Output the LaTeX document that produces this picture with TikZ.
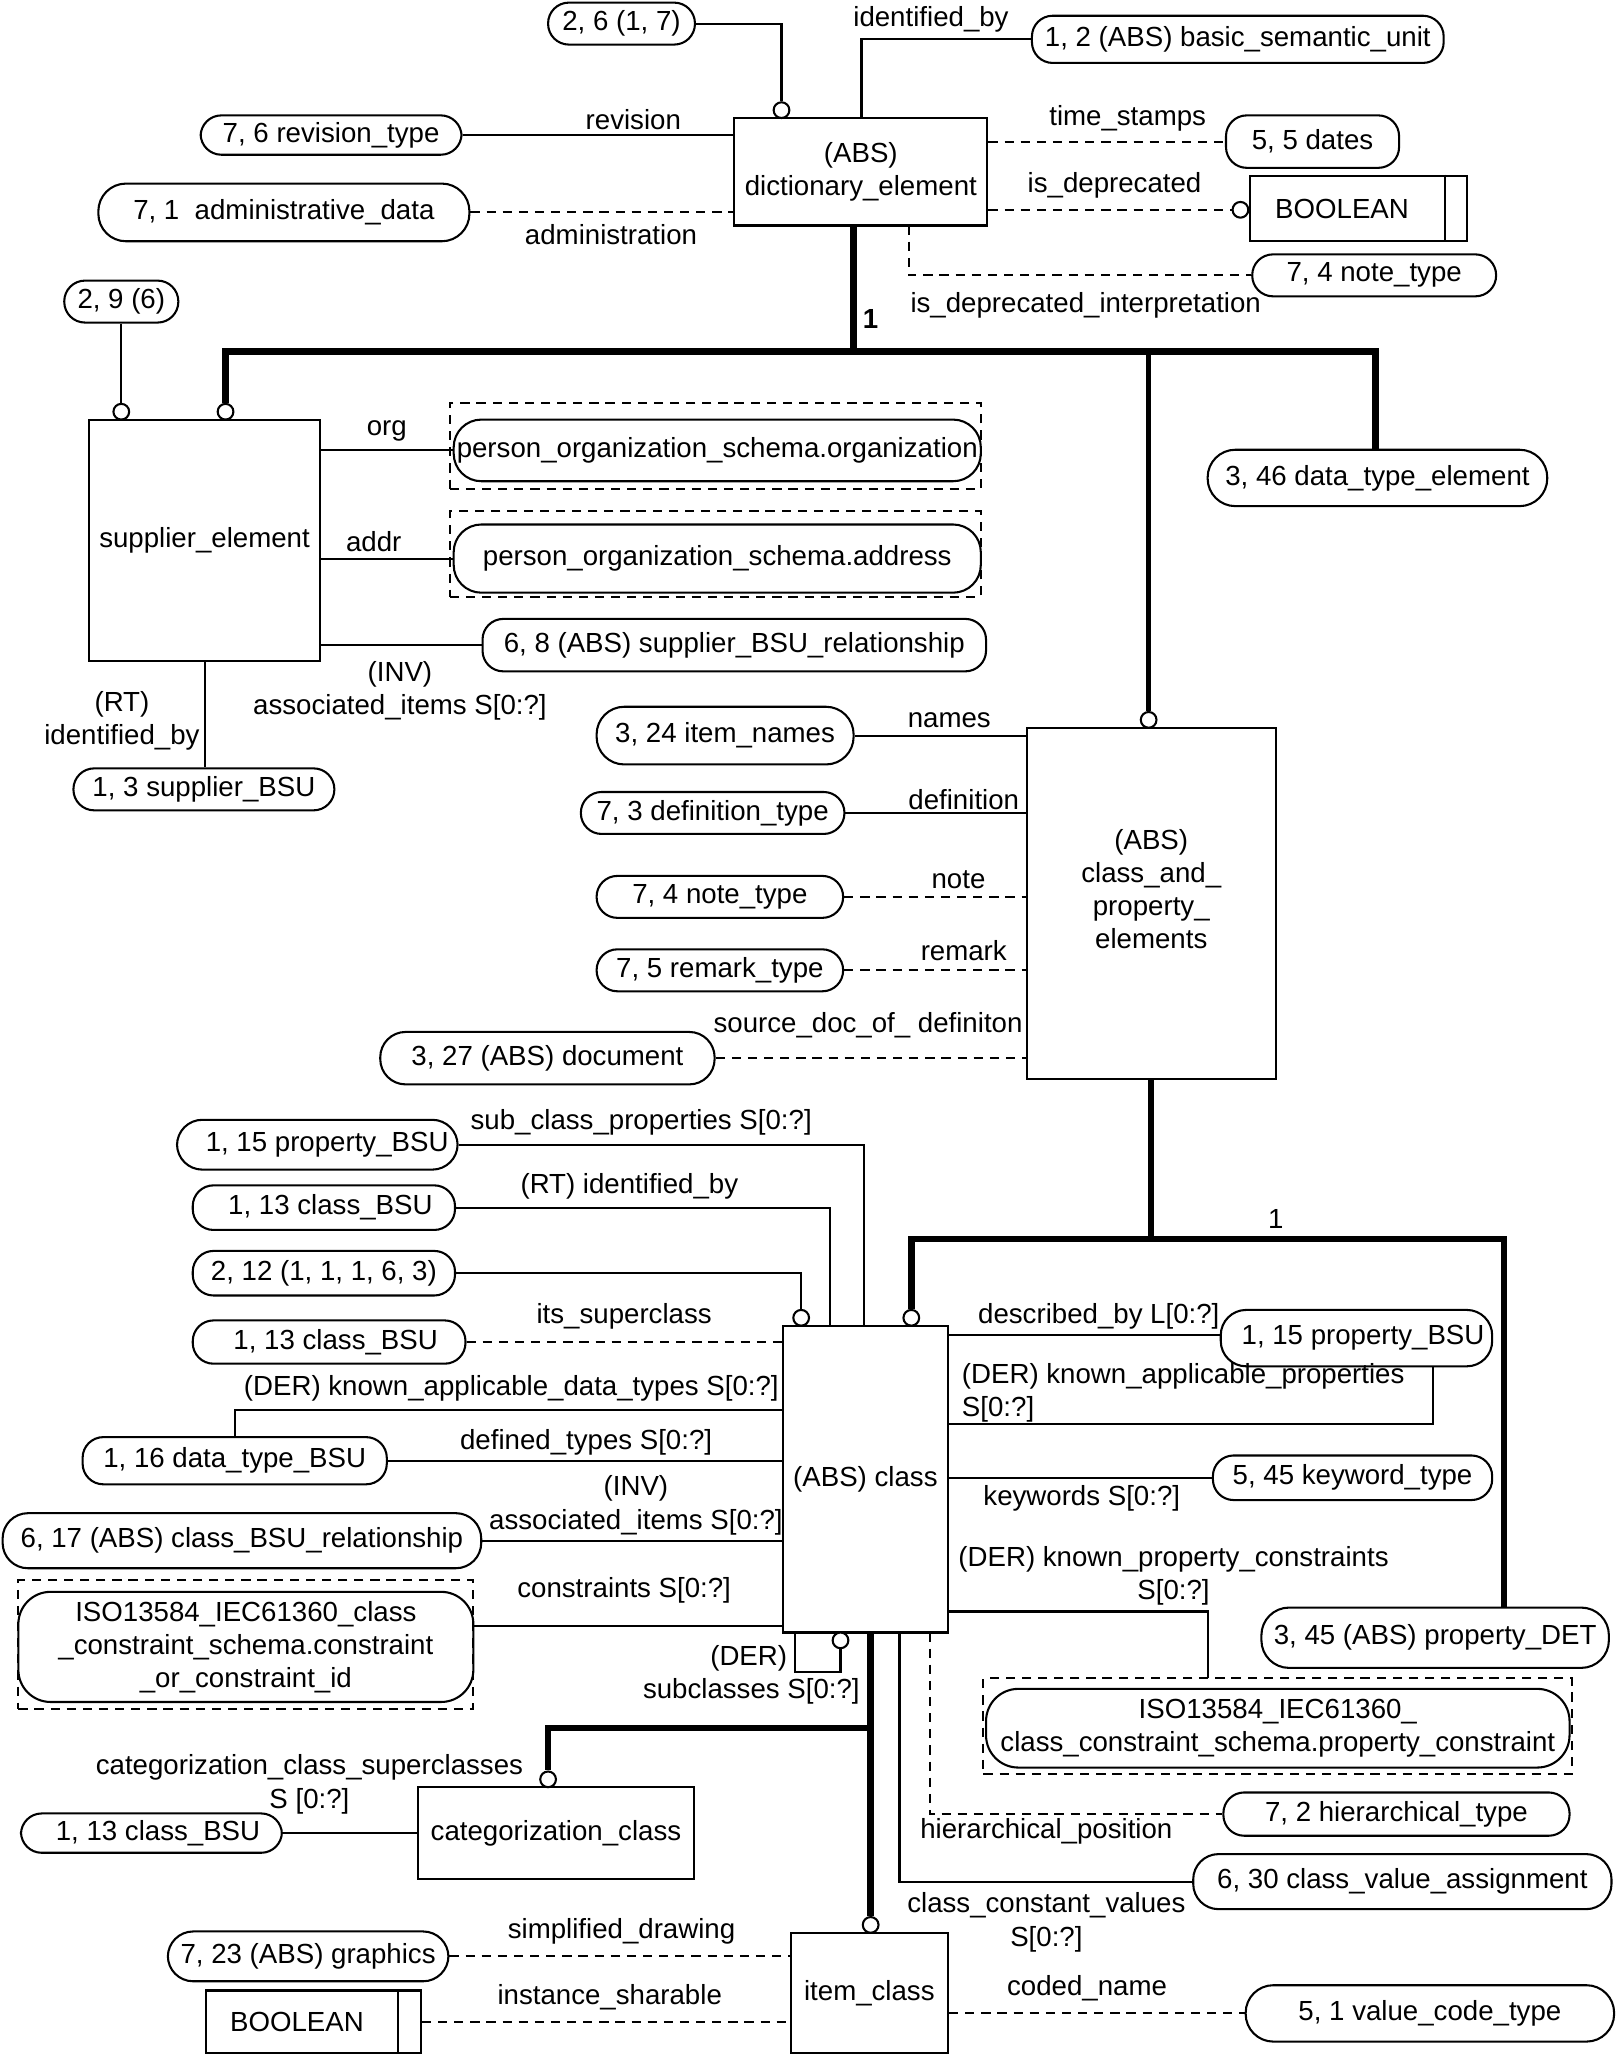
\documentclass[tikz,border=0pt]{standalone}
\usepackage{fontspec}
\setmainfont{Liberation Sans}

\begin{document}
\begin{tikzpicture}[x=0.02cm, y=-0.02cm,
      font=\fontsize{12}{14.4}\selectfont, line width=0.9pt,
      span/.style args={#1/#2/#3/#4}{at={({(#1+#3)/2},{(#2+#4)/2})},
        minimum width={(#3-#1)*0.02cm}, minimum height={(#4-#2)*0.02cm}},
      pill/.style={rectangle, rounded corners=9pt, draw, inner sep=0pt, align=center},
      tall/.style={rectangle, rounded corners=14pt, draw, inner sep=0pt, align=center},
      entity/.style={rectangle, draw, inner sep=0pt, align=center},
      dashframe/.style={rectangle, draw, dash pattern=on 4pt off 3pt, inner sep=0pt},
      opt/.style={dash pattern=on 4pt off 3pt},
      bus/.style={line width=2.8pt},
      ring/.style={circle, draw, fill=white, line width=0.9pt, inner sep=0pt, minimum size=0.24cm}]
      \useasboundingbox (0,0) rectangle (1232,1568);

      % Dictionary element
      \node[entity, span=560/90/753/172] (dict) {(ABS)\\dictionary\_element};
      \node[pill, span=418/2/530/34] (ver1) {2, 6 (1, 7)};
      \node[pill, span=787/12/1101/48] (bsu) {1, 2 (ABS) basic\_semantic\_unit};
      \node[pill, span=153/88/352/118] (revt) {7, 6 revision\_type};
      \node[pill, rounded corners=12pt, span=75/140/358/184] (admin) {7, 1\ \ administrative\_data};
      \node[pill, span=935/88/1067/128] (dates) {5, 5 dates};
      \node[entity, span=953/134/1119/184] (bool1) {BOOLEAN\hspace{0.5cm}};
      \node[pill, span=955/194/1141/226] (note1) {7, 4 note\_type};
      \draw ([xshift=-0.36cm]bool1.north east) -- ([xshift=-0.36cm]bool1.south east);

      \node[ring] (r1) at (596,84) {};
      \node[ring] (r2) at (946,160) {};
      \coordinate (dictA) at (657,90);
      \coordinate (dictB) at (693,172);
      \draw (ver1.east) -| (r1.north);
      \draw (dictA) |- (bsu.west);
      \draw (revt.east) -- (revt.east -| dict.west);
      \draw[opt] (admin.east) -- (admin.east -| dict.west);
      \draw[opt] (dict.east |- dates.west) -- (dates.west);
      \draw[opt] (dict.east |- r2.west) -- (r2.west);
      \draw[opt] (dictB) |- (note1.west);

      \node (lidb) at (710,15) {identified\_by};
      \node (lrev) at (483,91) {revision};
      \node (ladm) at (466,179) {administration};
      \node (ltim) at (860,90) {time\_stamps};
      \node (ldep) at (850,141) {is\_deprecated};
      \node (ldepi) at (828,233) {is\_deprecated\_interpretation};
      \node[font=\fontsize{12}{14.4}\selectfont\bfseries] (lone1) at (664,243) {1};

      % First level
      \coordinate (bus1) at (651,268);
      \coordinate (bus1L) at (172,268);
      \coordinate (bus1M) at (876,268);
      \coordinate (bus1R) at (1049,268);
      \node[pill, rounded corners=12pt, span=921/343/1180/386] (dte) {3, 46 data\_type\_element};
      \node[ring] (r3) at (172,314) {};
      \node[ring] (r4) at (876,549) {};
      \draw[bus] (dict.south -| bus1) -- (bus1);
      \draw[bus] (r3.north) -- (bus1L) -- (bus1R) -- (bus1R |- dte.north);
      \draw[line width=2.2pt] (bus1M) -- (r4.north);

      % Supplier element
      \node[entity, span=68/320/244/504] (supp) {supplier\_element};
      \node[pill, span=49/214/136/246] (ver2) {2, 9 (6)};
      \node[dashframe, span=343/307/748/373] (orgf) {};
      \node[pill, rounded corners=12pt, span=346/320/748/367] (org) {person\_organization\_schema.organization};
      \node[dashframe, span=343/390/748/455] (addrf) {};
      \node[pill, rounded corners=12pt, span=346/400/748/452] (addr) {person\_organization\_schema.address};
      \node[pill, span=368/472/752/512] (sbr) {6, 8 (ABS) supplier\_BSU\_relationship};
      \node[pill, span=56/586/255/618] (sbsu) {1, 3 supplier\_BSU};
      \node[ring] (r5) at (92.5,314) {};
      \draw (ver2.south) -- (r5.north);
      \draw (supp.east |- org.west) -- (org.west);
      \draw (supp.east |- addr.west) -- (addr.west);
      \draw (supp.east |- sbr.west) -- (sbr.west);
      \draw (supp.south) -- (supp.south |- sbsu.north);

      \node (lorg) at (295,329) {org};
      \node (laddr) at (285,413) {addr};
      \node[align=center] (lsass) at (305,527) {(INV)\\associated\_items S[0:?]};
      \node[align=center] (lsid) at (93,550) {(RT)\\identified\_by};

      % Class and property elements
      \node[entity, span=783/555/973/823] (cap) {(ABS)\\class\_and\_\\property\_\\elements\\[-2pt]};
      \node[pill, rounded corners=12pt, span=455/539/651/583] (inames) {3, 24 item\_names};
      \node[pill, span=443/604/644/636] (deft) {7, 3 definition\_type};
      \node[pill, span=455/668/643/700] (note2) {7, 4 note\_type};
      \node[pill, span=455/724/643/756] (remt) {7, 5 remark\_type};
      \node[pill, rounded corners=11pt, span=290/787/545/827] (doc) {3, 27 (ABS) document};
      \draw (inames.east) -- (inames.east -| cap.west);
      \draw (deft.east) -- (deft.east -| cap.west);
      \draw[opt] (note2.east) -- (note2.east -| cap.west);
      \draw[opt] (remt.east) -- (remt.east -| cap.west);
      \draw[opt] (doc.east) -- (doc.east -| cap.west);

      \node (lnam) at (724,549) {names};
      \node (ldef) at (735,610) {definition};
      \node (lnote) at (731,671) {note};
      \node (lrem) at (735,725) {remark};
      \node (lsrc) at (662,782) {source\_doc\_of\_ definiton};

      % Second level
      \coordinate (bus2) at (878,945);
      \coordinate (bus2L) at (695,945);
      \coordinate (bus2R) at (1147,945);
      \node[entity, span=597/1011/723/1245] (cls) {(ABS) class};
      \node[pill, rounded corners=12pt, span=962/1226/1227/1272] (pdet) {3, 45 (ABS) property\_DET};
      \node[ring] (r6) at (695,1005) {};
      \draw[bus] (cap.south) -- (bus2);
      \draw[bus] (r6.north) -- (bus2L) -- (bus2R) -- (bus2R |- pdet.north);
      \node (lone2) at (973,930) {1};

      % Class, left side
      \node[pill, rounded corners=11pt, span=135/854/349/892] (pbsu1) {\hspace{0.3cm}1, 15 property\_BSU};
      \node[pill, span=147/904/347/938] (cbsu1) {\hspace{0.2cm}1, 13 class\_BSU};
      \node[pill, span=147/954/347/988] (ver3) {2, 12 (1, 1, 1, 6, 3)};
      \node[pill, span=147/1007/355/1040] (cbsu2) {\hspace{0.2cm}1, 13 class\_BSU};
      \node[pill, span=63/1096/295/1132] (dtbsu) {1, 16 data\_type\_BSU};
      \node[pill, rounded corners=11pt, span=2/1154/367/1196] (cbr) {6, 17 (ABS) class\_BSU\_relationship};
      \node[dashframe, span=14/1205/361/1303] (ccf) {};
      \node[tall, span=14/1214/361/1298] (cc) {ISO13584\_IEC61360\_class\\\_constraint\_schema.constraint\\\_or\_constraint\_id};
      \coordinate (clsA) at (659,1011);
      \coordinate (clsB) at (633,1011);
      \coordinate (clsC) at (597,1075);
      \coordinate (clsD) at (597,1240);
      \coordinate (clsE) at (606,1245);
      \coordinate (loopE) at (641,1275);
      \node[ring] (r7) at (611,1005) {};
      \node[ring] (r8) at (641,1251) {};
      \draw (pbsu1.east) -| (clsA);
      \draw (cbsu1.east) -| (clsB);
      \draw (ver3.east) -| (r7.north);
      \draw[opt] (cbsu2.east) -- (cbsu2.east -| cls.west);
      \draw (clsC) -| (dtbsu.north);
      \draw (dtbsu.east) -- (dtbsu.east -| cls.west);
      \draw (cbr.east) -- (cbr.east -| cls.west);
      \draw (clsD) -- (clsD -| cc.east);
      \draw (clsE) |- (loopE) -- (r8.south);

      \node (lscp) at (489,856) {sub\_class\_properties S[0:?]};
      \node (lcid) at (480,905) {(RT) identified\_by};
      \node (lsup) at (476,1004) {its\_superclass};
      \node (lkadt) at (390,1059) {(DER) known\_applicable\_data\_types S[0:?]};
      \node (ldft) at (447,1100) {defined\_types S[0:?]};
      \node[align=center] (lcass) at (485,1148) {(INV)\\associated\_items S[0:?]};
      \node (lcon) at (476,1213) {constraints S[0:?]};
      \node (lder) at (571,1265) {(DER)};
      \node (lsub) at (573,1290) {subclasses S[0:?]};

      % Class, right side
      \node[pill, rounded corners=11pt, span=931/999/1138/1042] (pbsu2) {\hspace{0.2cm}1, 15 property\_BSU};
      \node[pill, span=925/1110/1138/1144] (kwt) {5, 45 keyword\_type};
      \node[dashframe, span=750/1280/1199/1353] (pcf) {};
      \node[tall, span=752/1288/1197/1348] (pc) {ISO13584\_IEC61360\_\\class\_constraint\_schema.property\_constraint};
      \node[pill, span=933/1367/1197/1400] (hier) {7, 2 hierarchical\_type};
      \node[pill, rounded corners=11pt, span=910/1414/1229/1456] (cva) {6, 30 class\_value\_assignment};
      \coordinate (clsF) at (723,1018);
      \coordinate (clsG) at (723,1086);
      \coordinate (kap) at (1093,1042);
      \coordinate (clsH) at (723,1229);
      \coordinate (pcfA) at (921,1280);
      \coordinate (clsI) at (709,1245);
      \coordinate (clsJ) at (686,1245);
      \draw (clsF) -- (clsF -| pbsu2.west);
      \draw (clsG) -| (kap);
      \draw (kwt.west -| cls.east) -- (kwt.west);
      \draw (clsH) -| (pcfA);
      \draw[opt] (clsI) |- (hier.west);
      \draw (clsJ) |- (cva.west);

      \node (ldes) at (838,1004) {described\_by L[0:?]};
      \node[align=left, anchor=west] (lkap) at (727,1062) {(DER) known\_applicable\_properties\\S[0:?]};
      \node (lkey) at (825,1143) {keywords S[0:?]};
      \node[align=center] (lkpc) at (895,1202) {(DER) known\_property\_constraints\\S[0:?]};
      \node (lhier) at (798,1397) {hierarchical\_position};
      \node[align=center] (lccv) at (798,1466) {class\_constant\_values\\S[0:?]};

      % Third level
      \coordinate (clsK) at (664,1245);
      \coordinate (bus3) at (664,1318);
      \node[entity, span=319/1363/529/1433] (cat) {categorization\_class};
      \node[entity, span=603/1474/723/1566] (item) {item\_class};
      \node[ring] (r9) at (664,1468) {};
      \node[ring] (r10) at (418,1357) {};
      \draw[bus] (clsK) -- (r9.north);
      \draw[bus] (bus3) -| (r10.north);

      \node[pill, span=16/1383/215/1413] (cbsu3) {\hspace{0.2cm}1, 13 class\_BSU};
      \draw (cbsu3.east) -- (cbsu3.east -| cat.west);
      \node (lcsup) at (236,1348) {categorization\_class\_superclasses};
      \node (lcsups) at (236,1374) {S [0:?]};

      \node[pill, rounded corners=11pt, span=128/1473/342/1511] (gra) {7, 23 (ABS) graphics};
      \node[entity, span=157/1518/321/1566] (bool2) {BOOLEAN\hspace{0.5cm}};
      \node[pill, rounded corners=12pt, span=950/1514/1231/1557] (vct) {5, 1 value\_code\_type};
      \draw ([xshift=-0.36cm]bool2.north east) -- ([xshift=-0.36cm]bool2.south east);
      \draw[opt] (gra.east) -- (gra.east -| item.west);
      \draw[opt] (bool2.east) -- (bool2.east -| item.west);
      \draw[opt] (item.east |- vct.west) -- (vct.west);

      \node (lsim) at (474,1473) {simplified\_drawing};
      \node (linst) at (465,1523) {instance\_sharable};
      \node (lcod) at (829,1516) {coded\_name};

    \end{tikzpicture}
\end{document}
